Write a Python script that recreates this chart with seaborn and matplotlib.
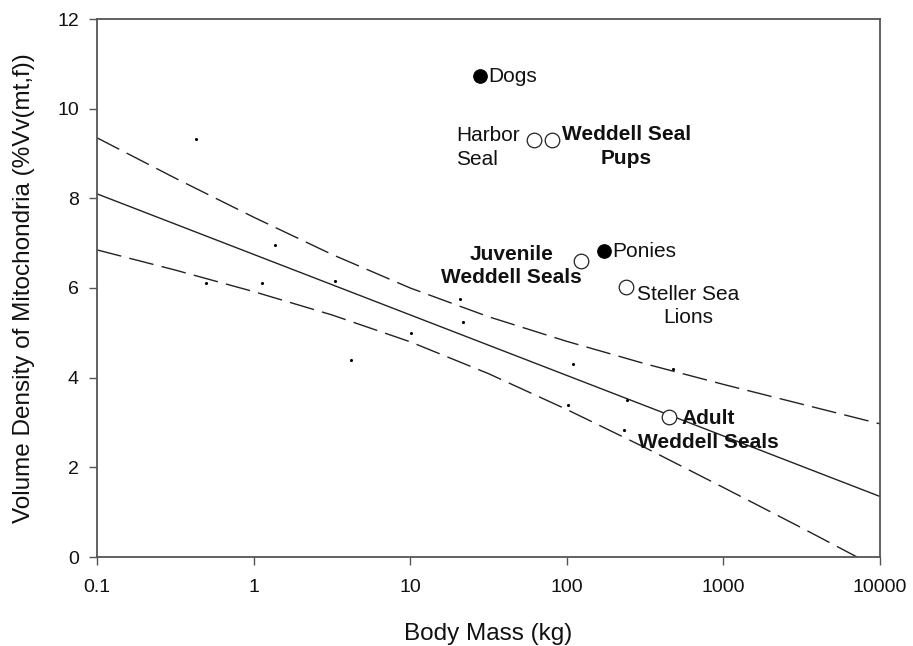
import numpy as np
import pandas as pd
import matplotlib
matplotlib.use("Agg")
import matplotlib.pyplot as plt
import seaborn as sns

# ---------------- data ----------------
# small background data points (body mass kg, Vv %)
dot_mass = [0.43, 1.37, 0.50, 1.13, 3.3, 20.8, 21.7, 10.1, 4.17, 110, 476, 242, 102, 232]
dot_vv = [9.33, 6.96, 6.12, 6.12, 6.16, 5.76, 5.25, 5.00, 4.40, 4.31, 4.20, 3.50, 3.39, 2.83]

# labelled species
species = ["Dogs", "Harbor Seal", "Weddell Seal Pups", "Juvenile Weddell Seals",
           "Ponies", "Steller Sea Lions", "Adult Weddell Seals"]
species_mass = [28, 62, 80, 123, 173, 239, 450]
species_vv = [10.72, 9.30, 9.30, 6.60, 6.82, 6.02, 3.12]
species_filled = [True, False, False, False, True, False, False]
species_label = ["Dogs", "Harbor\nSeal", "Weddell Seal\nPups", "Juvenile\nWeddell Seals",
                 "Ponies", "Steller Sea\nLions", "Adult\nWeddell Seals"]
species_bold = [False, False, True, True, False, False, True]

# regression line and confidence band, read at half-decade steps
fit_mass = [0.1, 10000]
fit_vv = [8.10, 1.35]
band_mass = [0.1, 0.316, 1, 3.16, 10, 31.6, 100, 316, 1000, 3162, 10000]
band_upper = [9.35, 8.45, 7.58, 6.75, 6.00, 5.36, 4.81, 4.31, 3.85, 3.41, 2.97]
band_lower = [6.85, 6.40, 5.92, 5.40, 4.80, 4.09, 3.29, 2.44, 1.55, 0.65, -0.27]

x_ticks = [0.1, 1, 10, 100, 1000, 10000]
x_tick_labels = ["0.1", "1", "10", "100", "1000", "10000"]
y_ticks = [0, 2, 4, 6, 8, 10, 12]

# ---------------- style ----------------
sns.set_theme(style="white")
plt.rcParams["font.family"] = ["Liberation Sans", "DejaVu Sans"]
plt.rcParams["lines.scale_dashes"] = False

fig = plt.figure(figsize=(9.13, 6.46), dpi=100)
ax = fig.add_axes([97 / 913, 89 / 646, 783 / 913, 538 / 646])

line_col = "#222222"
text_col = "#111111"
spine_col = "#555555"

sns.lineplot(x=fit_mass, y=fit_vv, ax=ax, color=line_col, linewidth=1.0, sort=True)
sns.lineplot(x=band_mass, y=band_upper, ax=ax, color=line_col, linewidth=1.0,
             linestyle=(0, (18, 6)))
sns.lineplot(x=band_mass, y=band_lower, ax=ax, color=line_col, linewidth=1.0,
             linestyle=(0, (18, 6)))

sns.scatterplot(x=dot_mass, y=dot_vv, ax=ax, s=5, color="black", linewidth=0)

df = pd.DataFrame({"mass": species_mass, "vv": species_vv, "filled": species_filled})
filled = df[df["filled"]]
opened = df[~df["filled"]]
sns.scatterplot(data=filled, x="mass", y="vv", ax=ax, s=95, color="black",
                edgecolor="black", linewidth=0.8, zorder=5)
sns.scatterplot(data=opened, x="mass", y="vv", ax=ax, s=110, facecolor="white",
                edgecolor="#222222", linewidth=0.9, zorder=5)

ax.set_xscale("log")
ax.set_xlim(0.1, 10000)
ax.set_ylim(0, 12)
ax.set_xticks(x_ticks)
ax.set_xticklabels(x_tick_labels)
ax.minorticks_off()
ax.set_yticks(y_ticks)
ax.set_yticklabels([str(v) for v in y_ticks])

for sp in ax.spines.values():
    sp.set_visible(True)
    sp.set_color(spine_col)
    sp.set_linewidth(1.3)

ax.tick_params(axis="both", which="major", direction="out", length=6, width=1.0,
               color=spine_col, labelsize=14, labelcolor=text_col,
               bottom=True, left=True)
ax.tick_params(axis="x", pad=10)
ax.tick_params(axis="y", pad=7)

ax.set_xlabel("Body Mass (kg)", fontsize=17.5, color=text_col, labelpad=19)
ax.set_ylabel("Volume Density of Mitochondria (%Vv(mt,f))", fontsize=17.5,
              color=text_col, labelpad=16)

# annotations (offsets in points from each marker)
offsets = {
    "Dogs": ((6, 0), "left", "center"),
    "Harbor Seal": ((-56, -5.5), "left", "center"),
    "Weddell Seal Pups": ((54, -4.7), "center", "center"),
    "Juvenile Weddell Seals": ((-50, -3.5), "center", "center"),
    "Ponies": ((6, 0), "left", "center"),
    "Steller Sea Lions": ((45, -13.5), "center", "center"),
    "Adult Weddell Seals": ((28, -9.5), "center", "center"),
}
for name, m, v, lab, bold in zip(species, species_mass, species_vv, species_label, species_bold):
    (dx, dy), ha, va = offsets[name]
    ax.annotate(lab, xy=(m, v), xytext=(dx, dy), textcoords="offset points",
                ha=ha, va=va, multialignment=ha,
                fontsize=15, fontweight="bold" if bold else "normal",
                color=text_col, linespacing=1.3, zorder=6)

fig.savefig("out.png", dpi=100)
